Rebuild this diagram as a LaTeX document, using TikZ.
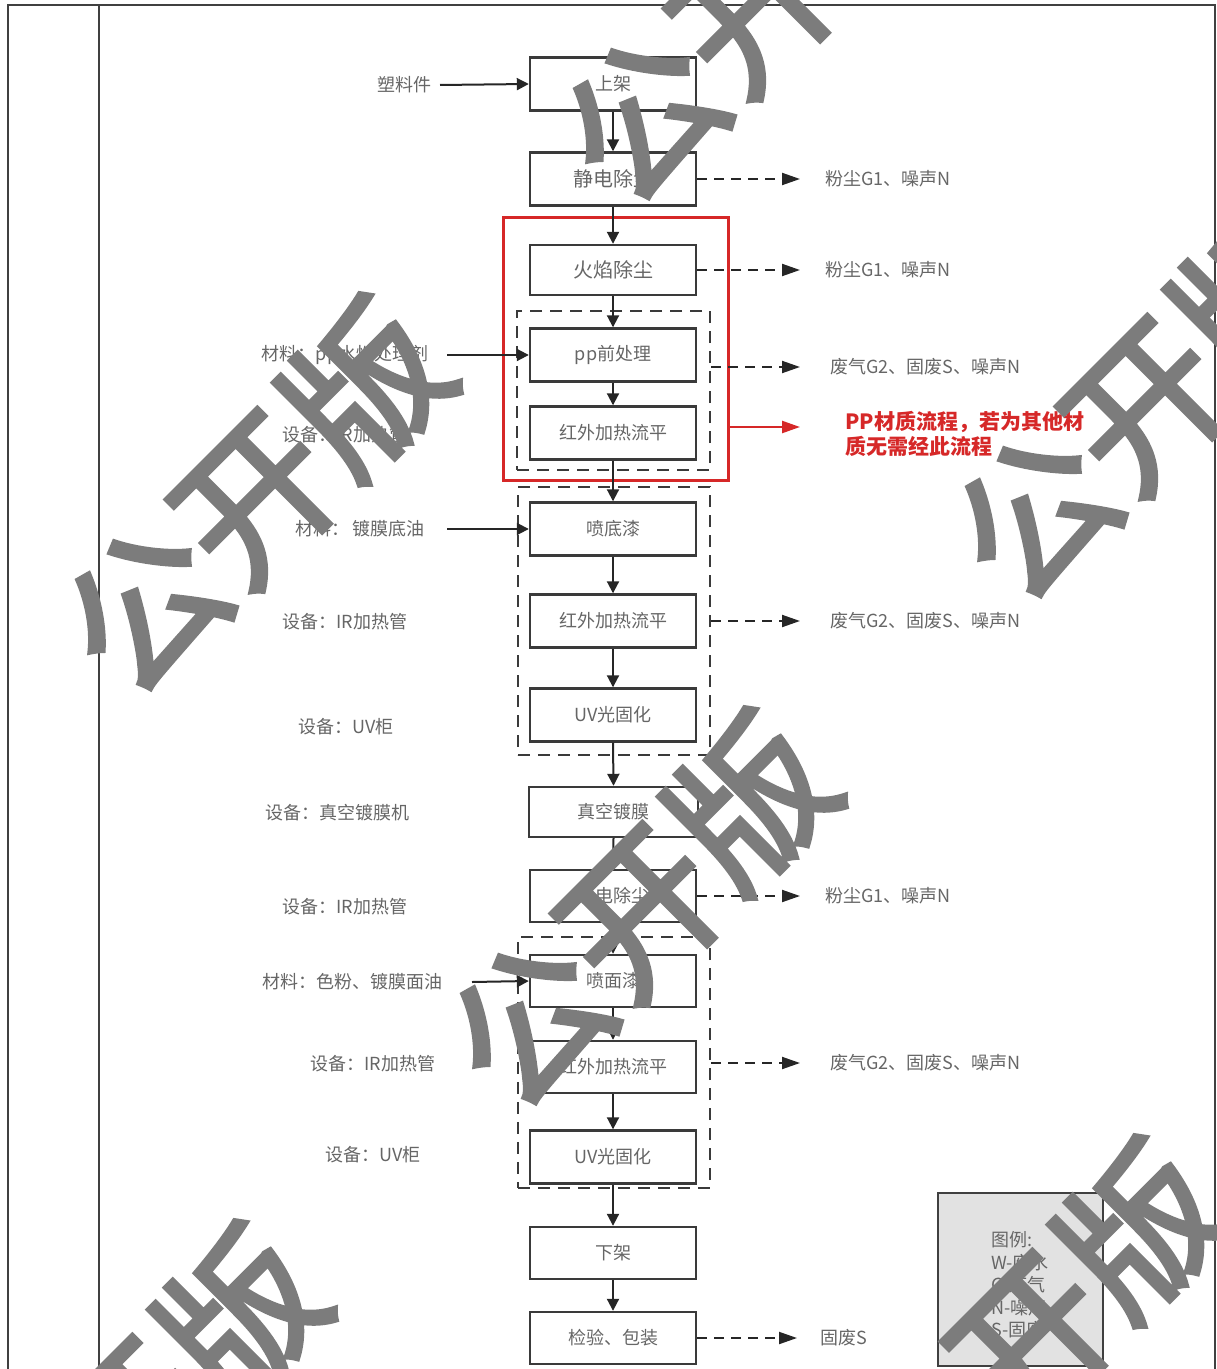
\documentclass[tikz,border=0pt]{standalone}
\usepackage{fontspec}
\setmainfont{Noto Sans CJK SC}
\newfontfamily\wmfont[FakeBold=3]{Noto Sans CJK SC}
\usetikzlibrary{arrows.meta}
\definecolor{boxline}{HTML}{3A3A3A}
\definecolor{txtgray}{HTML}{666666}
\definecolor{wmgray}{HTML}{7C7C7C}
\definecolor{pred}{HTML}{D62828}
\definecolor{legfill}{HTML}{E2E2E2}
\tikzset{
  proc/.style={draw=boxline,line width=1.2pt,minimum width=83pt,minimum height=26.5pt,inner sep=0pt,text=txtgray,font=\fontsize{9pt}{11pt}\selectfont},
  lab/.style={text=txtgray,inner sep=0pt,font=\fontsize{9pt}{11pt}\selectfont},
  flow/.style={draw=black!85,line width=1pt,-{Triangle[length=6pt,width=6pt]}},
  emit/.style={draw=black!85,line width=1pt,dash pattern=on 5pt off 3.5pt,-{Triangle[length=9pt,width=6pt]}},
  grp/.style={draw=boxline,line width=1.2pt,dash pattern=on 6pt off 4pt,inner sep=0pt},
  redgrp/.style={draw=pred,line width=1.5pt,inner sep=0pt},
  tbl/.style={draw=black!75,line width=1.2pt},
  wmark/.style={text=wmgray,inner sep=0pt,rotate=45,font=\wmfont\fontsize{78pt}{78pt}\selectfont},
}
\begin{document}
\begin{tikzpicture}[x=0.5pt,y=-0.5pt]
\useasboundingbox (0,0) rectangle (1216,1369);
% table frame
\draw[tbl] (8,1369) -- (8,5) -- (1215,5) -- (1215,1369);
\draw[tbl] (99,5) -- (99,1369);

% process boxes
\node[proc] (b1) at (613,84) {上架};
\node[proc,font=\fontsize{10pt}{12pt}\selectfont] (b2) at (613,179) {静电除尘};
\node[proc,minimum height=25pt,font=\fontsize{10pt}{12pt}\selectfont] (b3) at (613,270) {火焰除尘};
\node[proc] (b4) at (613,355) {pp前处理};
\node[proc] (b5) at (613,433) {红外加热流平};
\node[proc] (b6) at (613,529) {喷底漆};
\node[proc] (b7) at (613,621) {红外加热流平};
\node[proc] (b8) at (613,715) {UV光固化};
\node[proc,minimum width=84.5pt,minimum height=25pt] (b9) at (613.5,812) {真空镀膜};
\node[proc,minimum height=26pt] (b10) at (613,896) {静电除尘};
\node[proc,minimum height=26pt] (b11) at (613,981) {喷面漆};
\node[proc,minimum height=26pt] (b12) at (613,1067) {红外加热流平};
\node[proc] (b13) at (613,1157) {UV光固化};
\node[proc,minimum height=26pt] (b14) at (613,1253) {下架};
\node[proc,minimum height=26pt] (b15) at (613,1338) {检验、包装};

% group frames
\node[redgrp,minimum width=112.5pt,minimum height=131pt] (red) at (615.5,349) {};
\node[grp,minimum width=96.5pt,minimum height=79.5pt] (g1) at (613.5,390.5) {};
\node[grp,minimum width=96pt,minimum height=134pt] (g2) at (614,621) {};
\node[grp,minimum width=96pt,minimum height=125.5pt] (g3) at (614,1062.5) {};

% main flow
\foreach \a/\b in {b1/b2,b2/b3,b3/b4,b4/b5,b5/b6,b6/b7,b7/b8,b8/b9,b9/b10,b10/b11,b11/b12,b12/b13,b13/b14,b14/b15}
  \draw[flow] (\a.south) -- (\b.north);

% left inputs and equipment
\node[lab] (i1) at (404,85) {塑料件};
\node[lab] (i2) at (345,355) {材料：pp水性处理剂};
\node[lab] (e1) at (345,435) {设备：IR加热管};
\node[lab] (i3) at (360,529) {材料：\,镀膜底油};
\node[lab] (e2) at (345,622) {设备：IR加热管};
\node[lab] (e3) at (346,727) {设备：UV柜};
\node[lab] (e4) at (337,813) {设备：真空镀膜机};
\node[lab] (e5) at (345,907) {设备：IR加热管};
\node[lab] (i4) at (352,982) {材料：色粉、镀膜面油};
\node[lab] (e6) at (373,1064) {设备：IR加热管};
\node[lab] (e7) at (373,1155) {设备：UV柜};

\coordinate (s1) at (440,85);
\coordinate (s2) at (447,355);
\coordinate (s3) at (447,529);
\coordinate (s4) at (472,982);
\draw[flow] (s1) -- (b1.west);
\draw[flow] (s2) -- (b4.west);
\draw[flow] (s3) -- (b6.west);
\draw[flow] (s4) -- (b11.west);

% outputs
\node[lab,anchor=west] (o1) at (825,179) {粉尘G1、噪声N};
\node[lab,anchor=west] (o2) at (825,270) {粉尘G1、噪声N};
\node[lab,anchor=west] (o3) at (830,367) {废气G2、固废S、噪声N};
\node[lab,anchor=west] (o4) at (830,621) {废气G2、固废S、噪声N};
\node[lab,anchor=west] (o5) at (825,896) {粉尘G1、噪声N};
\node[lab,anchor=west] (o6) at (830,1063) {废气G2、固废S、噪声N};
\node[lab,anchor=west] (o7) at (820,1338) {固废S};

\coordinate (t1) at (800,179);
\coordinate (t2) at (800,270);
\coordinate (t3) at (800,367);
\coordinate (t4) at (800,621);
\coordinate (t5) at (800,896);
\coordinate (t6) at (800,1063);
\coordinate (t7) at (797,1338);
\draw[emit] (b2.east) -- (t1);
\draw[emit] (b3.east) -- (t2);
\draw[emit] (g1.east |- t3) -- (t3);
\draw[emit] (g2.east |- t4) -- (t4);
\draw[emit] (b10.east) -- (t5);
\draw[emit] (g3.east |- t6) -- (t6);
\draw[emit] (b15.east) -- (t7);

% red note
\node[inner sep=0pt,anchor=west,align=left,text=pred,font=\fontsize{10.5pt}{12.5pt}\selectfont\bfseries] (note) at (845,434) {PP材质流程，若为其他材\\质无需经此流程};
\coordinate (rt) at (800,427);
\draw[draw=pred,line width=1.2pt,-{Triangle[length=9pt,width=6pt]}] (red.east |- rt) -- (rt);

% legend
\node[draw=black!75,line width=1.2pt,fill=legfill,minimum width=82.5pt,minimum height=86.5pt,inner sep=0pt] (leg) at (1020.5,1279.5) {};
\node[lab,align=left,font=\fontsize{9pt}{11.25pt}\selectfont] (legt) at (1020,1285) {图例:\\W-废水\\G-废气\\N-噪声\\S-固废};

% watermark
\node[wmark] (w1) at (753,7) {公开版};
\node[wmark] (w2) at (255,498) {公开版};
\node[wmark] (w3) at (1145,405) {公开版};
\node[wmark] (w4) at (640,912) {公开版};
\node[wmark] (w5) at (130,1425) {公开版};
\node[wmark] (w6) at (1030,1340) {公开版};
\end{tikzpicture}
\end{document}
